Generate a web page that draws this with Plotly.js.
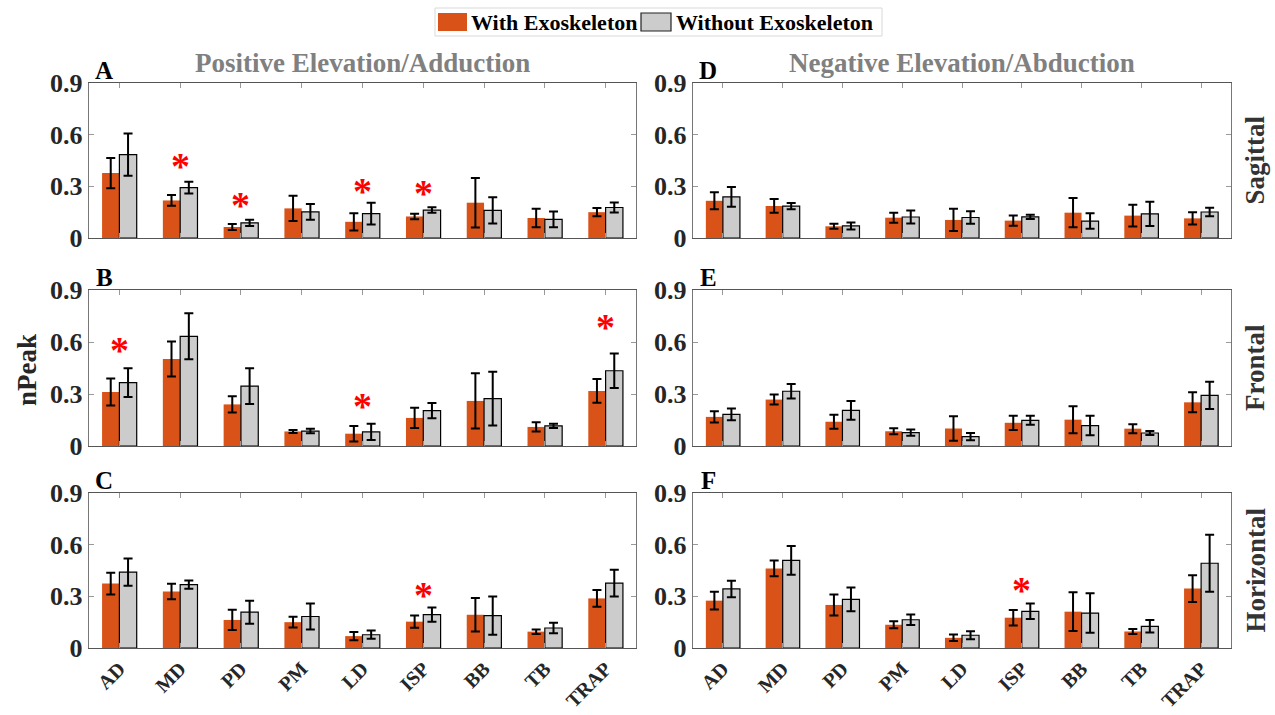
<!DOCTYPE html>
<html>
<head>
<meta charset="utf-8">
<script src="https://cdn.plot.ly/plotly-3.0.1.min.js"></script>
<style>html,body{margin:0;padding:0;background:#fff;}#chart{width:1275px;height:715px;}</style>
</head>
<body>
<div id="chart"></div>
<script>
// ---------- DATA ----------
const categories = ['AD','MD','PD','PM','LD','ISP','BB','TB','TRAP'];
const seriesNames = ['With Exoskeleton','Without Exoskeleton'];
const panelLetters = ['A','B','C','D','E','F'];
const rowLabels = ['Sagittal','Frontal','Horizontal'];
const columnTitles = ['Positive Elevation/Adduction','Negative Elevation/Abduction'];
const yTickVals = [0, 0.3, 0.6, 0.9];
const yTickText = ['0', '0.3', '0.6', '0.9'];

// Panel A (Sagittal, positive)
const withA      = [0.377,0.218,0.064,0.172,0.094,0.125,0.205,0.116,0.150];
const withA_err  = [0.088,0.031,0.017,0.074,0.050,0.016,0.144,0.054,0.024];
const withoutA   = [0.484,0.292,0.088,0.152,0.142,0.162,0.160,0.108,0.177];
const withoutA_err=[0.123,0.034,0.018,0.046,0.063,0.016,0.076,0.046,0.029];
// Panel B (Frontal, positive)
const withB      = [0.312,0.502,0.240,0.084,0.071,0.162,0.260,0.110,0.318];
const withB_err  = [0.078,0.101,0.047,0.009,0.045,0.058,0.159,0.027,0.068];
const withoutB   = [0.366,0.633,0.346,0.086,0.081,0.204,0.273,0.116,0.434];
const withoutB_err=[0.083,0.133,0.103,0.013,0.047,0.044,0.155,0.012,0.100];
// Panel C (Horizontal, positive)
const withC      = [0.374,0.328,0.163,0.150,0.069,0.153,0.193,0.095,0.288];
const withC_err  = [0.063,0.045,0.059,0.031,0.024,0.036,0.097,0.013,0.049];
const withoutC   = [0.441,0.368,0.208,0.183,0.077,0.194,0.188,0.116,0.377];
const withoutC_err=[0.079,0.024,0.067,0.075,0.024,0.041,0.111,0.031,0.078];
// Panel D (Sagittal, negative)
const withD      = [0.216,0.186,0.068,0.118,0.105,0.101,0.147,0.130,0.114];
const withD_err  = [0.049,0.040,0.015,0.029,0.065,0.030,0.085,0.063,0.035];
const withoutD   = [0.239,0.185,0.070,0.122,0.119,0.123,0.098,0.140,0.151];
const withoutD_err=[0.057,0.018,0.020,0.038,0.036,0.012,0.045,0.071,0.024];
// Panel E (Frontal, negative)
const withE      = [0.168,0.268,0.140,0.085,0.101,0.134,0.152,0.100,0.252];
const withE_err  = [0.032,0.029,0.040,0.017,0.070,0.041,0.078,0.026,0.058];
const withoutE   = [0.183,0.316,0.205,0.077,0.054,0.148,0.118,0.075,0.292];
const withoutE_err=[0.034,0.042,0.054,0.018,0.021,0.026,0.056,0.012,0.079];
// Panel F (Horizontal, negative)
const withF      = [0.275,0.462,0.250,0.135,0.059,0.176,0.211,0.096,0.345];
const withF_err  = [0.051,0.046,0.061,0.020,0.019,0.045,0.113,0.015,0.078];
const withoutF   = [0.343,0.509,0.282,0.164,0.074,0.213,0.203,0.126,0.492];
const withoutF_err=[0.048,0.083,0.069,0.030,0.023,0.045,0.115,0.036,0.166];

// significance markers (panel, category, height)
const sigPanel = ['A','A','A','A','B','B','B','C','F'];
const sigCat   = ['MD','PD','LD','ISP','AD','LD','TRAP','ISP','ISP'];
const sigY     = [0.452,0.226,0.305,0.294,0.588,0.265,0.721,0.345,0.374];

// ---------- LAYOUT / STYLE ----------
const W = 1275, H = 715;
const FONT = 'Liberation Serif';
const colorWith = '#D95319';
const colorWithout = '#CCCCCC';
const colX = [[89,636],[693,1231]];          // pixel left/right of panel columns
const rowY = [[83,238],[290,446],[493,648]];  // pixel top/bottom of panel rows

const panelData = {
  A:[withA,withA_err,withoutA,withoutA_err],
  B:[withB,withB_err,withoutB,withoutB_err],
  C:[withC,withC_err,withoutC,withoutC_err],
  D:[withD,withD_err,withoutD,withoutD_err],
  E:[withE,withE_err,withoutE,withoutE_err],
  F:[withF,withF_err,withoutF,withoutF_err]
};

const traces = [];
const layout = {
  width: W, height: H,
  margin: {l:0, r:0, t:0, b:0},
  paper_bgcolor: '#fff', plot_bgcolor: '#fff',
  barmode: 'group', bargap: 0.43, bargroupgap: 0,
  font: {family: FONT, color: '#262626'},
  showlegend: false,
  annotations: [],
  shapes: []
};

panelLetters.forEach((p, i) => {
  const col = i < 3 ? 0 : 1;
  const row = i % 3;
  const n = i + 1;
  const xa = n === 1 ? 'x' : 'x' + n;
  const ya = n === 1 ? 'y' : 'y' + n;
  const [w, we, wo, woe] = panelData[p];
  traces.push({
    type: 'bar', name: seriesNames[0], x: categories, y: w,
    xaxis: xa, yaxis: ya, legendgroup: 'with',
    marker: {color: colorWith, line: {width: 0}},
    error_y: {type: 'data', array: we, visible: true, color: '#000', thickness: 2, width: 4.5},
    hoverinfo: 'x+y'
  });
  traces.push({
    type: 'bar', name: seriesNames[1], x: categories, y: wo,
    xaxis: xa, yaxis: ya, legendgroup: 'without',
    marker: {color: colorWithout, line: {color: '#000', width: 1.2}},
    error_y: {type: 'data', array: woe, visible: true, color: '#000', thickness: 2, width: 4.5},
    hoverinfo: 'x+y'
  });
  const [xl, xr] = colX[col];
  const [yt, yb] = rowY[row];
  layout['xaxis' + (n === 1 ? '' : n)] = {
    domain: [xl / W, xr / W], anchor: ya,
    type: 'category', range: [-0.5, 8.5],
    showticklabels: row === 2, tickangle: -45,
    tickfont: {family: FONT, size: 20, weight: 'bold', color: '#262626'},
    ticks: 'inside', ticklen: 5, tickcolor: '#999',
    showline: true, linecolor: '#555', linewidth: 1.2, mirror: 'ticks',
    showgrid: false, zeroline: false, automargin: false, fixedrange: true
  };
  layout['yaxis' + (n === 1 ? '' : n)] = {
    domain: [1 - yb / H, 1 - yt / H], anchor: xa,
    range: [0, 0.9], tickvals: yTickVals, ticktext: yTickText,
    tickfont: {family: FONT, size: 26, weight: 'bold', color: '#262626'},
    ticks: 'inside', ticklen: 5, tickcolor: '#999',
    showline: true, linecolor: '#777', linewidth: 1.2, mirror: 'ticks',
    showgrid: false, zeroline: false, automargin: false, fixedrange: true
  };
  // panel letter
  layout.annotations.push({
    xref: 'paper', yref: 'paper', x: (xl + 15) / W, y: 1 - (yt - 13) / H,
    xanchor: 'center', yanchor: 'middle', showarrow: false, text: p,
    font: {family: FONT, size: 25, weight: 'bold', color: '#000'}
  });
});

// column titles
columnTitles.forEach((t, c) => {
  layout.annotations.push({
    xref: 'paper', yref: 'paper', x: (colX[c][0] + colX[c][1]) / 2 / W, y: 1 - 63 / H,
    xanchor: 'center', yanchor: 'middle', showarrow: false, text: t,
    font: {family: FONT, size: 27, weight: 'bold', color: '#808080'}
  });
});
// row labels on the right
rowLabels.forEach((t, r) => {
  layout.annotations.push({
    xref: 'paper', yref: 'paper', x: 1255 / W, y: 1 - (rowY[r][0] + rowY[r][1]) / 2 / H,
    xanchor: 'center', yanchor: 'middle', showarrow: false, text: t, textangle: -90,
    font: {family: FONT, size: 27, weight: 'bold', color: '#333'}
  });
});
// y axis label
layout.annotations.push({
  xref: 'paper', yref: 'paper', x: 27 / W, y: 1 - 370 / H,
  xanchor: 'center', yanchor: 'middle', showarrow: false, text: 'nPeak', textangle: -90,
  font: {family: FONT, size: 27, weight: 'bold', color: '#262626'}
});
// significance asterisks
sigPanel.forEach((p, k) => {
  const n = panelLetters.indexOf(p) + 1;
  layout.annotations.push({
    xref: n === 1 ? 'x' : 'x' + n, yref: n === 1 ? 'y' : 'y' + n,
    x: sigCat[k], y: sigY[k], xanchor: 'center', yanchor: 'middle', yshift: -6,
    showarrow: false, text: '*',
    font: {family: FONT, size: 38, weight: 'bold', color: '#FF0000'}
  });
});

// legend (drawn as shapes + text to match the boxed swatches)
const legendBox = [435, 882, 8, 36];
const legendSwatches = [[438, 467], [641, 671]];
const legendTextX = [469, 674];
const px = v => v / W, py = v => 1 - v / H;
layout.shapes.push({type: 'rect', xref: 'paper', yref: 'paper',
  x0: px(legendBox[0]), x1: px(legendBox[1]), y0: py(legendBox[3]), y1: py(legendBox[2]),
  line: {color: '#d9d9d9', width: 1}, fillcolor: '#fff', layer: 'below'});
[colorWith, colorWithout].forEach((c, k) => {
  layout.shapes.push({type: 'rect', xref: 'paper', yref: 'paper',
    x0: px(legendSwatches[k][0]), x1: px(legendSwatches[k][1]), y0: py(31), y1: py(13),
    line: {color: k === 0 ? c : '#222', width: k === 0 ? 0 : 1.2}, fillcolor: c});
  layout.annotations.push({
    xref: 'paper', yref: 'paper', x: px(legendTextX[k]), y: py(22),
    xanchor: 'left', yanchor: 'middle', showarrow: false, text: seriesNames[k],
    font: {family: FONT, size: 22, weight: 'bold', color: '#000'}
  });
});

Plotly.newPlot('chart', traces, layout, {displayModeBar: false, staticPlot: true});
</script>
</body>
</html>
